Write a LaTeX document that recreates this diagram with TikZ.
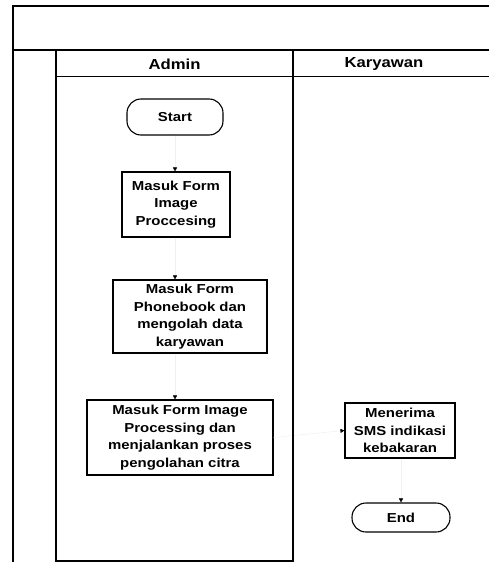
\documentclass[tikz,border=0pt]{standalone}
\usepackage{fontspec}
\setmainfont{Liberation Sans}[FakeStretch=1.15]
\usetikzlibrary{arrows.meta}
\tikzset{
  x=1pt, y=-1pt,
  frame/.style={line width=1.6pt, black},
  lane/.style={line width=2.6pt, black},
  thinrule/.style={line width=1pt, black},
  lanetitle/.style={font=\fontsize{14.5}{17}\selectfont\bfseries},
  procbox/.style={draw, line width=1.1pt, align=center, inner sep=0pt,
    font=\fontsize{13}{17.5}\selectfont\bfseries},
  terminal/.style={draw, line width=1.1pt, rounded corners=14pt, inner sep=0pt,
    font=\fontsize{13}{15}\selectfont\bfseries},
  flow/.style={draw=black!6, line width=0.5pt,
    -{Triangle[length=4pt, width=4pt, color=black, fill=black]}},
}
\begin{document}
\begin{tikzpicture}
\useasboundingbox (0,0) rectangle (489,562);

% flow steps in the Admin and Karyawan lanes
\node[terminal, minimum width=96pt, minimum height=36pt] (start) at (175,117) {Start};
\node[procbox, minimum width=108pt, minimum height=65pt] (b1) at (176,204.5)
  {Masuk Form\\Image\\Proccesing};
\node[procbox, minimum width=154pt, minimum height=73pt] (b2) at (190,316.5)
  {Masuk Form\\Phonebook dan\\mengolah data\\karyawan};
\node[procbox, minimum width=186pt, minimum height=75pt] (b3) at (180,437.5)
  {Masuk Form Image\\Processing dan\\menjalankan proses\\pengolahan citra};
\node[procbox, minimum width=110pt, minimum height=55pt] (k1) at (400,430.5)
  {Menerima\\SMS indikasi\\kebakaran};
\node[terminal, minimum width=98pt, minimum height=29pt] (end) at (401,517.5) {End};

% connectors
\draw[flow] (start.south) -- (start.south |- b1.north);
\draw[flow] (start.south |- b1.south) -- (start.south |- b2.north);
\draw[flow] (start.south |- b2.south) -- (start.south |- b3.north);
\draw[flow] (b3.east) -- (k1.west);
\draw[flow] (end.north |- k1.south) -- (end.north);

% outer frame
\draw[frame] (489,6) -- (13,6) -- (13,562);
\draw[frame] (13,50) -- (489,50);

% swimlanes
\draw[lane] (56,50) -- (293,50);
\draw[lane] (56,50) -- (56,562);
\draw[lane] (293,50) -- (293,561) -- (56,561);
\draw[thinrule] (56,76) -- (489,76);
\node[lanetitle] (admin) at (174.5,64) {Admin};
\node[lanetitle] (karyawan) at (384,64) {Karyawan};
\end{tikzpicture}
\end{document}
